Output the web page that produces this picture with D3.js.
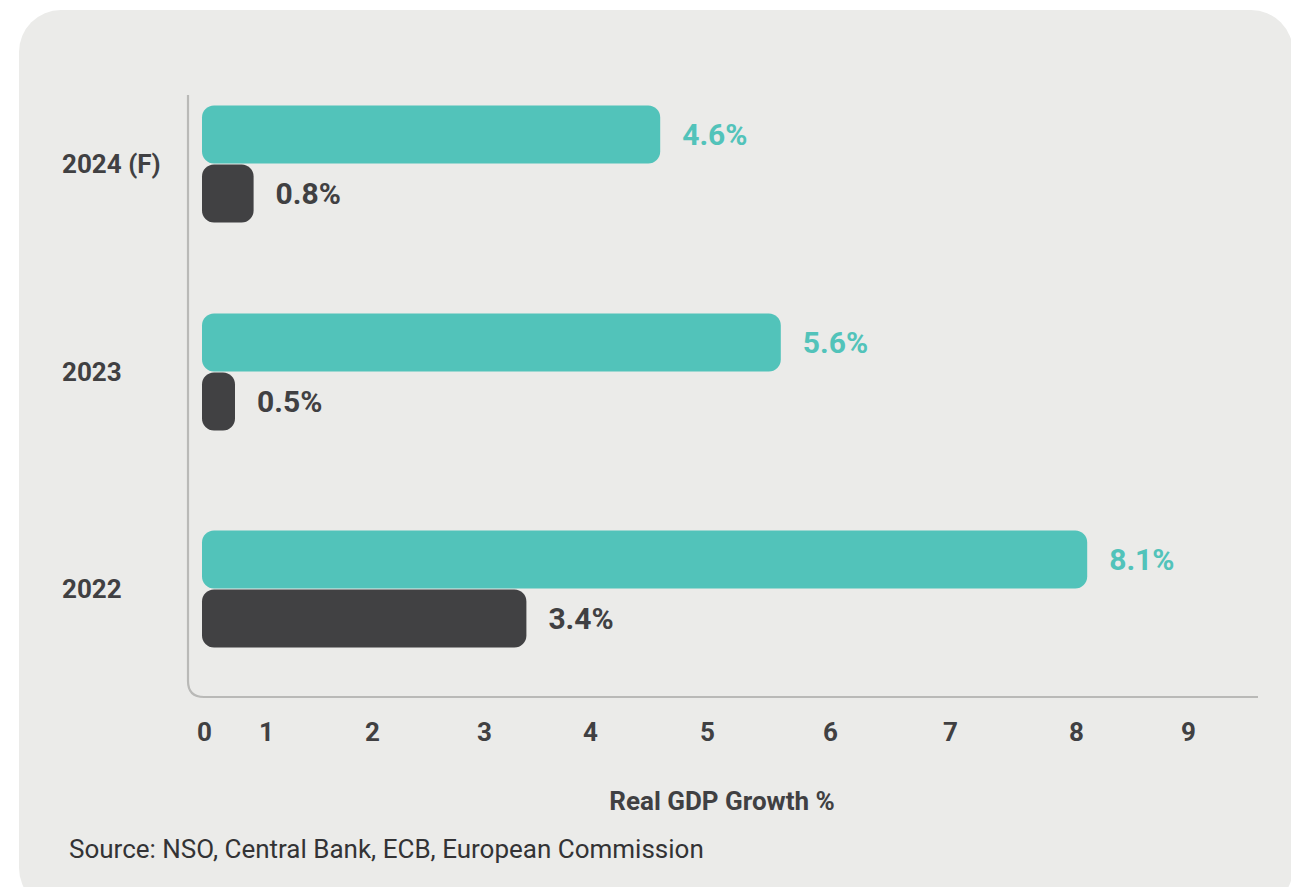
<!DOCTYPE html>
<html>
<head>
<meta charset="utf-8">
<script src="https://cdn.jsdelivr.net/npm/d3@7"></script>
<style>
  html, body { margin: 0; padding: 0; background: #ffffff; }
  svg { display: block; font-family: Roboto, "Noto Sans", sans-serif; }
</style>
</head>
<body>
<svg id="chart" width="1291" height="887"></svg>
<script>
// Real GDP growth by year: domestic economy vs euro area
const categories = ["2024 (F)", "2023", "2022"];
const domesticGrowth = [4.6, 5.6, 8.1];
const euroAreaGrowth = [0.8, 0.5, 3.4];
const tickValues = [0, 1, 2, 3, 4, 5, 6, 7, 8, 9];
const axisTitle = "Real GDP Growth %";
const sourceNote = "Source: NSO, Central Bank, ECB, European Commission";

const colors = { domestic: "#52c3ba", euro: "#414143", text: "#404042", frame: "#b9b9b7", card: "#ebebe9" };

const svg = d3.select("#chart");

// card background
svg.append("rect")
  .attr("x", 19).attr("y", 10)
  .attr("width", 1274).attr("height", 900)
  .attr("rx", 42).attr("ry", 42)
  .attr("fill", colors.card);

// horizontal value scale: uneven spacing between the integer ticks
const x = d3.scaleLinear()
  .domain(tickValues)
  .range([204, 266, 372, 484, 590, 707, 830, 950, 1076, 1188]);

// vertical placement of each year group (centre between its two bars)
const y = d3.scaleOrdinal()
  .domain(categories)
  .range([164, 372, 589]);

const barH = 58;
const barGap = 1;

// L-shaped frame with a rounded corner
const fx = 188, fTop = 95, fBottom = 697, fRight = 1258, fr = 16;
svg.append("path")
  .attr("d", `M${fx},${fTop} V${fBottom - fr} Q${fx},${fBottom} ${fx + fr},${fBottom} H${fRight}`)
  .attr("fill", "none")
  .attr("stroke", colors.frame)
  .attr("stroke-width", 2.2);

const rows = categories.map((c, i) => ({ cat: c, dom: domesticGrowth[i], euro: euroAreaGrowth[i] }));

const g = svg.append("g");

// rounded bar drawn from the value scale
function drawBar(sel, val, top, fill) {
  sel.append("rect")
    .attr("x", x(0) - 2)
    .attr("y", top)
    .attr("width", x(val) - x(0) + 2)
    .attr("height", barH)
    .attr("rx", 12).attr("ry", 12)
    .attr("fill", fill);
}

rows.forEach(r => {
  const cy = y(r.cat);
  const grp = g.append("g");
  drawBar(grp, r.dom, cy - barH - barGap / 2, colors.domestic);
  drawBar(grp, r.euro, cy + barGap / 2, colors.euro);

  grp.append("text")
    .attr("x", x(r.dom) + 22)
    .attr("y", cy - barH / 2 - barGap / 2)
    .attr("dy", "0.36em")
    .attr("font-size", 30).attr("font-weight", 700)
    .attr("fill", colors.domestic)
    .text(r.dom.toFixed(1) + "%");

  grp.append("text")
    .attr("x", x(r.euro) + 22)
    .attr("y", cy + barH / 2 + barGap / 2)
    .attr("dy", "0.36em")
    .attr("font-size", 30).attr("font-weight", 700)
    .attr("fill", colors.text)
    .text(r.euro.toFixed(1) + "%");

  grp.append("text")
    .attr("x", 62)
    .attr("y", cy)
    .attr("dy", "0.36em")
    .attr("font-size", 26).attr("font-weight", 700)
    .attr("fill", colors.text)
    .text(r.cat);
});

// bottom axis: labels only, no domain line or tick marks
const axis = d3.axisBottom(x).tickValues(tickValues).tickSize(0).tickPadding(0).tickFormat(d3.format("d"));
const axisG = svg.append("g").attr("transform", "translate(0,732)").call(axis);
axisG.select(".domain").remove();
axisG.selectAll("text")
  .attr("y", 0)
  .attr("dy", "0.36em")
  .attr("font-family", "Roboto, sans-serif")
  .attr("font-size", 26).attr("font-weight", 700)
  .attr("fill", colors.text);

svg.append("text")
  .attr("x", 722).attr("y", 801)
  .attr("dy", "0.36em")
  .attr("text-anchor", "middle")
  .attr("font-size", 26).attr("font-weight", 700)
  .attr("fill", colors.text)
  .text(axisTitle);

svg.append("text")
  .attr("x", 69).attr("y", 849)
  .attr("dy", "0.36em")
  .attr("font-size", 26).attr("font-weight", 400)
  .attr("fill", "#333335")
  .text(sourceNote);
</script>
</body>
</html>
